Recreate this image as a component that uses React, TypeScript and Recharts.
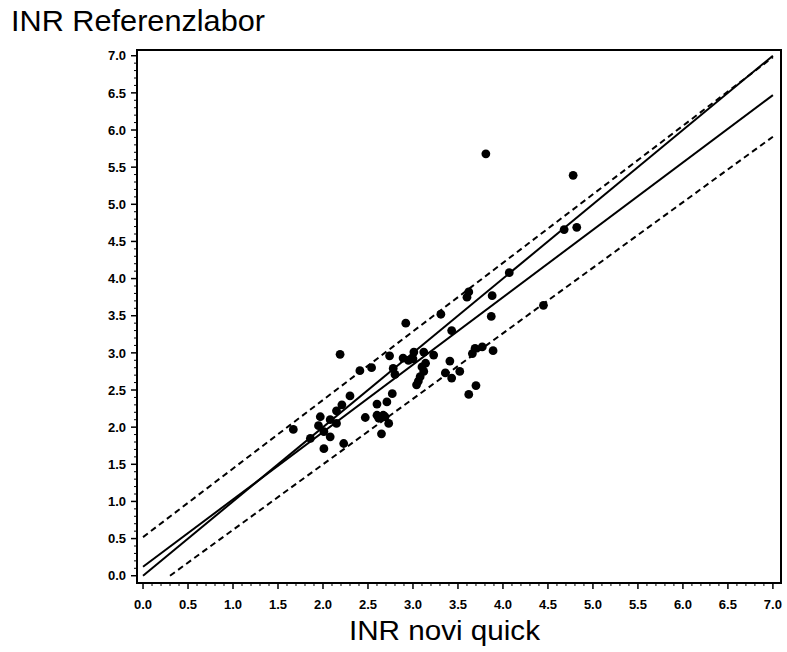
import { ScatterChart, Scatter, XAxis, YAxis, ReferenceArea } from "recharts"

// measured pairs: INR novi quick (x) vs INR Referenzlabor (y)
const novi = [
  3.31, 2.92, 3.43, 2.19, 2.74, 3.01, 2.89, 2.95, 3.12, 3.23, 2.41, 2.54, 2.78, 2.80, 3.10, 3.12,
  3.08, 3.04, 3.41, 3.36, 3.43, 3.52, 3.66, 3.69, 3.77, 3.89, 3.70, 3.62, 2.30, 2.21, 2.60, 2.71,
  2.69, 2.73, 2.62, 2.47, 2.65, 1.97, 2.08, 2.15, 2.01, 1.67, 1.86, 2.01, 2.23, 3.87, 3.81, 4.78,
  4.68, 4.82, 4.07, 3.62, 3.60, 3.88, 4.45, 2.77, 2.60, 2.67, 2.08, 3.06, 3.14, 3.00, 2.15, 1.95,
]
const referenz = [
  3.52, 3.40, 3.30, 2.98, 2.96, 3.01, 2.93, 2.90, 3.01, 2.97, 2.76, 2.80, 2.79, 2.71, 2.81, 2.75,
  2.68, 2.57, 2.89, 2.73, 2.66, 2.75, 2.99, 3.06, 3.08, 3.03, 2.56, 2.44, 2.42, 2.30, 2.31, 2.34,
  2.14, 2.05, 2.12, 2.13, 1.91, 2.14, 2.10, 2.05, 1.94, 1.97, 1.85, 1.71, 1.78, 3.49, 5.68, 5.39,
  4.66, 4.69, 4.08, 3.82, 3.75, 3.77, 3.64, 2.45, 2.16, 2.16, 1.87, 2.62, 2.86, 2.92, 2.22, 2.02,
]

// line endpoints
const identityLine = [{ x: 0, y: 0 }, { x: 7, y: 7 }]
const regressionLine = [{ x: 0, y: 0.12 }, { x: 7, y: 6.47 }]
const upperBand = [{ x: 0, y: 0.52 }, { x: 7, y: 6.98 }]
const lowerBand = [{ x: 0.3, y: 0 }, { x: 7, y: 5.91 }]

const ticks = Array.from({ length: 71 }, (_, i) => i / 10)

const points = novi.map((x, i) => ({ x, y: referenz[i] }))

const isMajor = (v: number) => Math.abs(v * 2 - Math.round(v * 2)) < 1e-6

const labelStyle = { fontFamily: "'Liberation Sans', Arial, sans-serif", fontWeight: 700, fontSize: 13 }

function XTick({ x, y, payload }: any) {
  const v = payload.value
  const major = isMajor(v)
  return (
    <g>
      <line x1={x} x2={x} y1={y} y2={y + (major ? 6 : 3)} stroke="#000" strokeWidth={major ? 1.5 : 1} />
      {major && (
        <text x={x} y={y + 26} textAnchor="middle" fill="#000" style={labelStyle}>
          {v.toFixed(1)}
        </text>
      )}
    </g>
  )
}

function YTick({ x, y, payload }: any) {
  const v = payload.value
  const major = isMajor(v)
  return (
    <g>
      <line x1={x} x2={x - (major ? 6 : 3)} y1={y} y2={y} stroke="#000" strokeWidth={major ? 1.5 : 1} />
      {major && (
        <text x={x - 11} y={y} dy="0.36em" textAnchor="end" fill="#000" style={labelStyle}>
          {v.toFixed(1)}
        </text>
      )}
    </g>
  )
}

const dot = (p: any) => <circle cx={p.cx} cy={p.cy} r={4.4} fill="#000" />
const noDot = () => <g />

const xDomain = [-0.067, 7.09]
const yDomain = [-0.098, 7.077]

export default function App() {
  return (
    <div style={{ position: "absolute", left: 0, top: 0, width: 787, height: 652, background: "#fff" }}>
      <ScatterChart width={787} height={652} margin={{ top: 50, right: 6, bottom: 0, left: 0 }}>
        <XAxis
          type="number"
          dataKey="x"
          domain={xDomain}
          ticks={ticks}
          interval={0}
          height={69}
          tickSize={0}
          tickMargin={0}
          tickLine={false}
          tick={<XTick />}
          axisLine={{ stroke: "#000", strokeWidth: 2 }}
        />
        <YAxis
          type="number"
          dataKey="y"
          domain={yDomain}
          ticks={ticks}
          interval={0}
          width={137}
          tickSize={0}
          tickMargin={0}
          tickLine={false}
          tick={<YTick />}
          axisLine={{ stroke: "#000", strokeWidth: 2 }}
        />
        <ReferenceArea x1={xDomain[0]} x2={xDomain[1]} y1={yDomain[0]} y2={yDomain[1]} fill="none" fillOpacity={0} stroke="#000" strokeWidth={2} />
        <Scatter data={identityLine} line={{ stroke: "#000", strokeWidth: 2 }} shape={noDot} isAnimationActive={false} />
        <Scatter data={regressionLine} line={{ stroke: "#000", strokeWidth: 2 }} shape={noDot} isAnimationActive={false} />
        <Scatter data={upperBand} line={{ stroke: "#000", strokeWidth: 2, strokeDasharray: "6 4" }} shape={noDot} isAnimationActive={false} />
        <Scatter data={lowerBand} line={{ stroke: "#000", strokeWidth: 2, strokeDasharray: "6 4" }} shape={noDot} isAnimationActive={false} />
        <Scatter data={points} shape={dot} isAnimationActive={false} />
      </ScatterChart>
      <svg width={787} height={652} style={{ position: "absolute", left: 0, top: 0, pointerEvents: "none" }}>
        <text x={11} y={31} fontSize={29} textLength={254} lengthAdjust="spacingAndGlyphs" fill="#000" style={{ fontFamily: "'Liberation Sans', Arial, sans-serif" }}>
          INR Referenzlabor
        </text>
        <text x={349} y={640} fontSize={27} textLength={191} lengthAdjust="spacingAndGlyphs" fill="#000" style={{ fontFamily: "'Liberation Sans', Arial, sans-serif" }}>
          INR novi quick
        </text>
      </svg>
    </div>
  )
}
